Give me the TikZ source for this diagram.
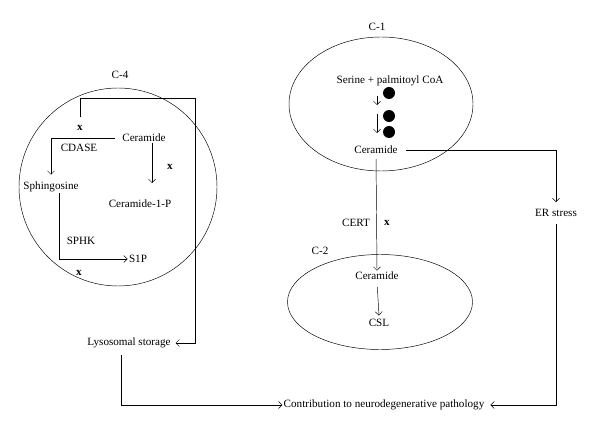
\documentclass[tikz,border=0pt]{standalone}
\usepackage{fontspec}
\setmainfont{Liberation Serif}
\usepackage{tikz}
\usetikzlibrary{arrows.meta, positioning, shapes.geometric}

\begin{document}
\begin{tikzpicture}[x=0.03cm, y=-0.03cm, >={Straight Barb[length=3pt,width=6pt]},
    lbl/.style={font=\fontsize{9.5}{11}\selectfont, inner sep=1pt},
    xmark/.style={font=\fontsize{9.5}{11}\selectfont\bfseries, inner sep=1pt},
    dot/.style={circle, fill=black, minimum size=0.36cm, inner sep=0pt}]
    \useasboundingbox (0,0) rectangle (600,433);

    % C-4
    \node[circle, draw, minimum size=5.94cm] (c4) at (118,187) {};
    \node[lbl] (c4lbl) at (120,75) {C-4};
    \node[lbl] (cer4) at (144,138) {Ceramide};
    \node[lbl] (cdase) at (79,148) {CDASE};
    \node[xmark] (x1) at (80,128) {x};
    \node[xmark] (x2) at (170,167) {x};
    \node[lbl] (sph) at (51,187) {Sphingosine};
    \node[lbl] (cer1p) at (140,204) {Ceramide-1-P};
    \node[lbl] (sphk) at (81,241) {SPHK};
    \node[lbl] (s1p) at (138,259) {S1P};
    \node[xmark] (x3) at (79,273) {x};

    % C-1
    \node[ellipse, draw, minimum width=5.52cm, minimum height=4.02cm] (c1) at (381,104) {};
    \node[lbl] (c1lbl) at (377,27) {C-1};
    \node[lbl] (serine) at (390,81) {Serine + palmitoyl CoA};
    \node[dot] (d1) at (389,93) {};
    \node[dot] (d2) at (389,116) {};
    \node[dot] (d3) at (389,132) {};
    \node[lbl] (cer1) at (376,150) {Ceramide};

    % C-2
    \node[ellipse, draw, minimum width=5.55cm, minimum height=2.85cm] (c2) at (380,302) {};
    \node[lbl] (c2lbl) at (320,251) {C-2};
    \node[lbl] (cer2) at (377,276) {Ceramide};
    \node[lbl] (csl) at (379,323) {CSL};
    \node[lbl] (cert) at (356,223) {CERT};
    \node[xmark] (x4) at (387,223) {x};

    % outcomes
    \node[lbl] (er) at (556,213) {ER stress};
    \node[lbl] (lyso) at (129,343) {Lysosomal storage};
    \node[lbl] (contrib) at (384,405) {Contribution to neurodegenerative pathology};

    \coordinate (c4top) at (195,98);
    \coordinate (c1ps) at (152,143);
    \coordinate (c1pe) at (152,183);
    \coordinate (a1s) at (377,96);
    \coordinate (a1e) at (377,105);
    \coordinate (a2s) at (377,114);
    \coordinate (a2e) at (377,133);

    % Arrows
    \draw[->, shorten <=6pt] (x1.north) |- (c4top) |- ([xshift=3pt]lyso.east);
    \draw[->, shorten <=5pt] (cer4.west) -| ([yshift=5pt]sph.north);
    \draw[->] (c1ps) -- (c1pe);
    \draw[->] ([xshift=7pt]sph.south) |- (s1p.west);
    \draw[->] (a1s) -- (a1e);
    \draw[->] (a2s) -- (a2e);
    \draw[->, shorten <=3pt] (cer1.south) -- (cer2.north);
    \draw[->, shorten <=5pt] (cer2.south) -- ([yshift=2pt]csl.north);
    \draw[->, shorten <=6pt] (cer1.east) -| ([yshift=5pt]er.north);
    \draw[->, shorten <=5pt] (er.south) |- ([xshift=4pt]contrib.east);
    \draw[->, shorten <=5pt] ([xshift=-7pt]lyso.south) |- (contrib.west);
\end{tikzpicture}
\end{document}
